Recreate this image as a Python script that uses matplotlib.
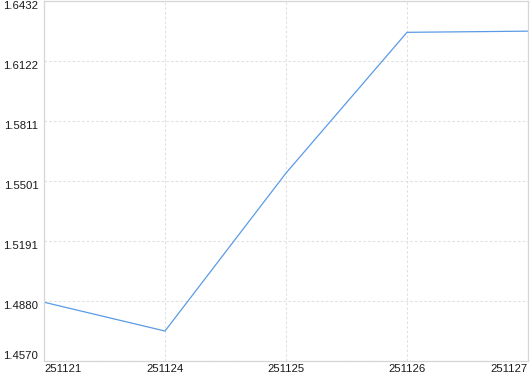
import matplotlib
matplotlib.use("Agg")
import matplotlib.pyplot as plt

categories = ["251121", "251124", "251125", "251126", "251127"]
values = [1.4874, 1.4725, 1.5542, 1.6270, 1.6276]
yticks = [1.4570, 1.4880, 1.5191, 1.5501, 1.5811, 1.6122, 1.6432]
ytick_labels = ["1.4570", "1.4880", "1.5191", "1.5501", "1.5811", "1.6122", "1.6432"]

plt.rcParams['font.family'] = ['Liberation Sans', 'DejaVu Sans']

fig = plt.figure(figsize=(5.30, 3.74), dpi=100)
ax = fig.add_axes([44/530, 1 - 361/374, (528-44)/530, 360/374])

x = list(range(len(categories)))
ax.plot(x, values, color='#5a9be6', linewidth=0.9)

ax.set_xlim(0, len(categories) - 1)
ax.set_ylim(yticks[0], yticks[-1])
ax.set_xticks(x)
ax.set_xticklabels(categories)
ax.set_yticks(yticks)
ax.set_yticklabels(ytick_labels)

ax.grid(True, color='#e0e0e0', linestyle=(0, (2.5, 2)), linewidth=0.75)
for s in ax.spines.values():
    s.set_color('#d6d6d6')
    s.set_linewidth(0.9)

ax.tick_params(axis='both', length=0, labelsize=8.2, colors='#1a1a1a')
ax.tick_params(axis='x', pad=2)
ax.tick_params(axis='y', pad=4)

xl = ax.get_xticklabels()
xl[0].set_ha('left')
xl[-1].set_ha('right')
yl = ax.get_yticklabels()
for i, t in enumerate(yl):
    t.set_va('bottom' if i == 0 else 'top')

fig.savefig("out.png", dpi=100)
